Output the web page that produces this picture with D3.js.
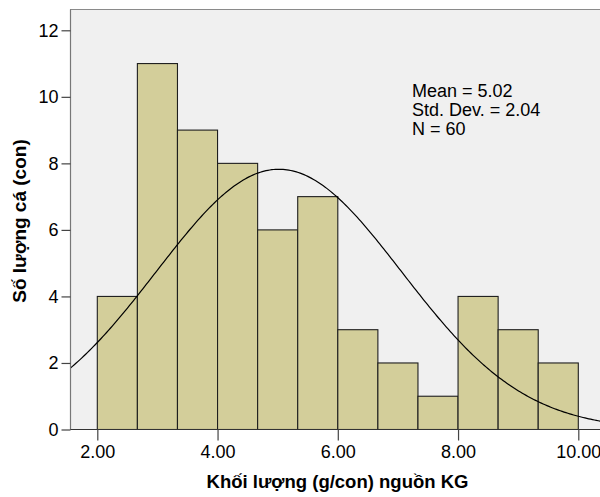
<!DOCTYPE html>
<html>
<head>
<meta charset="utf-8">
<script src="https://cdn.jsdelivr.net/npm/d3@7"></script>
<style>
  html, body { margin: 0; padding: 0; background: #ffffff; }
  svg { display: block; font-family: "Liberation Sans", Arial, sans-serif; }
</style>
</head>
<body>
<div id="chart"></div>
<script>
// ---- data ----
const binMin = 2.0;
const binMax = 10.0;
const counts = [4, 11, 9, 8, 6, 7, 3, 2, 1, 4, 3, 2];
const statMean = 5.02;
const statSD = 2.04;
const statN = 60;
const xTicks = [2, 4, 6, 8, 10];
const yTicks = [0, 2, 4, 6, 8, 10, 12];
const legendLines = ["Mean = 5.02", "Std. Dev. = 2.04", "N = 60"];
const xTitle = "Khối lượng (g/con) nguồn KG";
const yTitle = "Số lượng cá (con)";

// ---- layout ----
const W = 600, H = 497;
const plotL = 70.5, plotT = 9.5, plotR = 640, plotB = 429.5;

const svg = d3.select("#chart").append("svg")
  .attr("width", W).attr("height", H);

const x = d3.scaleLinear().domain([2, 10]).range([97.3, 578.3]);
const y = d3.scaleLinear().domain([0, 12]).range([plotB, 30.3]);

svg.append("defs").append("clipPath").attr("id", "clip")
  .append("rect").attr("x", plotL).attr("y", plotT)
  .attr("width", plotR - plotL).attr("height", plotB - plotT);

// background
svg.append("rect")
  .attr("x", plotL).attr("y", plotT)
  .attr("width", plotR - plotL).attr("height", plotB - plotT)
  .attr("fill", "#f0f0f0").attr("stroke", "#8a8a8a").attr("stroke-width", 1);

// bars
const bw = (binMax - binMin) / counts.length;
const bins = counts.map((c, i) => ({ x0: binMin + i * bw, x1: binMin + (i + 1) * bw, c }));
const g = svg.append("g").attr("clip-path", "url(#clip)");
g.selectAll("rect.bar").data(bins).enter().append("rect")
  .attr("class", "bar")
  .attr("x", d => x(d.x0))
  .attr("y", d => y(d.c))
  .attr("width", d => x(d.x1) - x(d.x0))
  .attr("height", d => y(0) - y(d.c))
  .attr("fill", "#d3ce9a")
  .attr("stroke", "#1e1e1e")
  .attr("stroke-width", 1.1);

// normal curve
const scaleK = statN * bw / (statSD * Math.sqrt(2 * Math.PI));
const xs = d3.range(0, 301).map(i => x.invert(plotL) + i * (x.invert(plotR) - x.invert(plotL)) / 300);
const line = d3.line()
  .x(v => x(v))
  .y(v => y(scaleK * Math.exp(-((v - statMean) ** 2) / (2 * statSD * statSD))));
g.append("path").datum(xs)
  .attr("d", line)
  .attr("fill", "none").attr("stroke", "#000").attr("stroke-width", 1.2);

// axes lines
svg.append("line").attr("x1", plotL).attr("x2", plotL).attr("y1", plotT).attr("y2", plotB)
  .attr("stroke", "#777").attr("stroke-width", 1.2);
svg.append("line").attr("x1", plotL).attr("x2", plotR).attr("y1", plotB).attr("y2", plotB)
  .attr("stroke", "#333").attr("stroke-width", 1.2);

// y axis
const yAxis = d3.axisLeft(y).tickValues(yTicks).tickFormat(d3.format("d")).tickSize(9).tickPadding(3);
const ya = svg.append("g").attr("transform", `translate(${plotL},0)`).call(yAxis);
ya.select(".domain").remove();
ya.selectAll(".tick line").attr("stroke", "#444").attr("stroke-width", 1.2);
ya.selectAll(".tick text").attr("font-size", 18).attr("fill", "#000")
  .attr("font-family", "Liberation Sans, Arial, sans-serif");

// x axis
const xAxis = d3.axisBottom(x).tickValues(xTicks).tickFormat(d3.format(".2f")).tickSize(11).tickPadding(5);
const xa = svg.append("g").attr("transform", `translate(0,${plotB})`).call(xAxis);
xa.select(".domain").remove();
xa.selectAll(".tick line").attr("stroke", "#444").attr("stroke-width", 1.2);
xa.selectAll(".tick text").attr("font-size", 18).attr("fill", "#000")
  .attr("font-family", "Liberation Sans, Arial, sans-serif");

// legend text
svg.append("g").selectAll("text").data(legendLines).enter().append("text")
  .attr("x", 412).attr("y", (d, i) => 97 + i * 19)
  .attr("font-size", 18).attr("fill", "#000")
  .text(d => d);

// titles
svg.append("text").attr("x", 337.5).attr("y", 488)
  .attr("text-anchor", "middle").attr("font-size", 18.5).attr("font-weight", "bold")
  .text(xTitle);
svg.append("text")
  .attr("transform", "translate(26,221) rotate(-90)")
  .attr("text-anchor", "middle").attr("font-size", 19).attr("font-weight", "bold")
  .text(yTitle);
</script>
</body>
</html>
